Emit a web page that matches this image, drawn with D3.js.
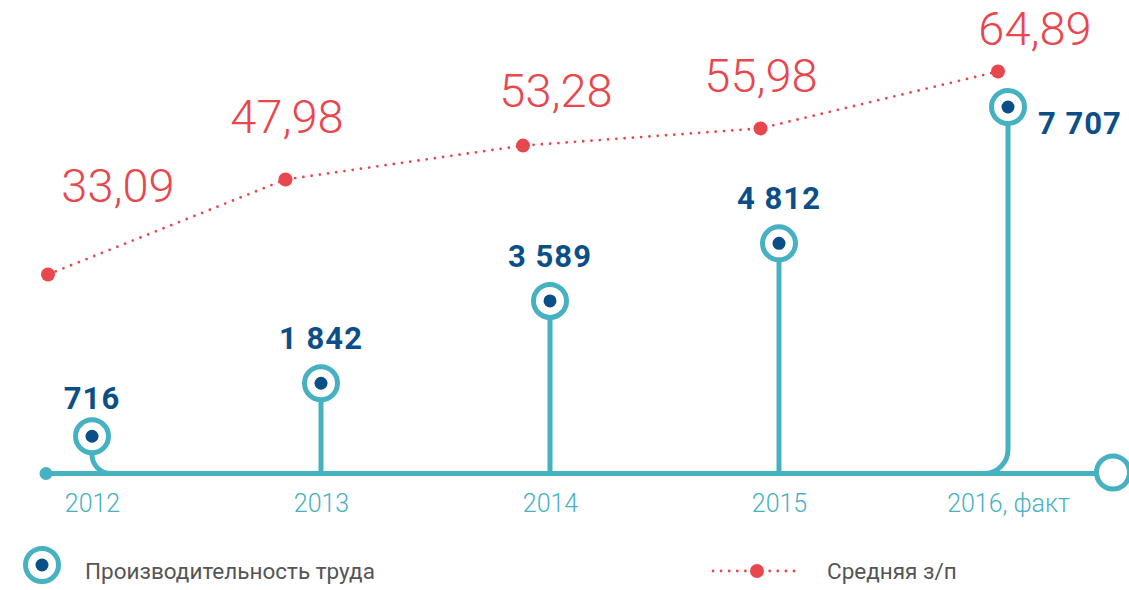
<!DOCTYPE html>
<html><head><meta charset="utf-8">
<script src="https://cdn.jsdelivr.net/npm/d3@7"></script>
<style>html,body{margin:0;padding:0;background:#fff;} svg{display:block;}</style>
</head><body>
<svg id="chart" width="1129" height="590"></svg>
<script>
// ---- DATA ----
const years = ["2012", "2013", "2014", "2015", "2016, факт"];
const productivity = [716, 1842, 3589, 4812, 7707];
const wage = [33.09, 47.98, 53.28, 55.98, 64.89];
const legendLabels = ["Производительность труда", "Средняя з/п"];

// ---- LAYOUT / STYLE ----
const teal = "#46b1c1", navy = "#0b4f88", red = "#e9474e", gray = "#555555";
const baseY = 473.5, axisStart = 46, axisEnd = 1113;
const ringR = 16.5, ringW = 5, dotR = 6.5;
// annotation nudges for the wage labels (dx, dy from their point)
const wageLabelNudge = [[70, -72.5], [1.5, -46.5], [33, -38.6], [0.5, -36.4], [37, -26.5]];

const locale = d3.formatLocale({decimal: ",", thousands: " ", grouping: [3], currency: ["", ""]});
const fmtInt = locale.format(",d");
const fmtDec = locale.format(",.2f");

const svg = d3.select("#chart");

const xStem = d3.scalePoint().domain(years).range([92, 1008]);
const xWage = d3.scalePoint().domain(years).range([48, 998]);
const yStem = d3.scaleLinear().domain([0, d3.max(productivity)]).range([470, 107]);
const yWage = d3.scaleLinear().domain(d3.extent(wage)).range([274.5, 71.5]);

// ---- axis labels ----
const axis = d3.axisBottom(xStem).tickSizeInner(0).tickSizeOuter(0).tickPadding(21);
const gAxis = svg.append("g").attr("transform", `translate(0,${baseY})`).call(axis);
gAxis.select(".domain").remove();
gAxis.selectAll("text")
  .attr("fill", teal)
  .style("font-family", "Roboto, sans-serif")
  .style("font-weight", 300)
  .style("font-size", "25px");

// ---- baseline ----
svg.append("line")
  .attr("x1", axisStart).attr("x2", axisEnd - ringR)
  .attr("y1", baseY).attr("y2", baseY)
  .attr("stroke", teal).attr("stroke-width", ringW);
svg.append("circle").attr("cx", axisStart).attr("cy", baseY).attr("r", 6.5).attr("fill", teal);
svg.append("circle").attr("cx", axisEnd).attr("cy", baseY - 1).attr("r", ringR)
  .attr("fill", "#fff").attr("stroke", teal).attr("stroke-width", ringW);

// ---- stems ----
const n = years.length;
const stems = years.map((y, i) => ({year: y, v: productivity[i], i}));
svg.append("g").selectAll("path").data(stems).join("path")
  .attr("fill", "none").attr("stroke", teal).attr("stroke-width", ringW)
  .attr("d", d => {
    const x = xStem(d.year), cy = yStem(d.v);
    if (d.i === 0) {
      const R = 19;
      return `M${x},${cy}L${x},${baseY - R}A${R},${R} 0 0 0 ${x + R},${baseY}`;
    } else if (d.i === n - 1) {
      const R = 24;
      return `M${x},${cy}L${x},${baseY - R}A${R},${R} 0 0 1 ${x - R},${baseY}`;
    }
    return `M${x},${cy}L${x},${baseY}`;
  });

const gMarks = svg.append("g").selectAll("g").data(stems).join("g")
  .attr("transform", d => `translate(${xStem(d.year)},${yStem(d.v)})`);
gMarks.append("circle").attr("r", ringR).attr("fill", "#fff")
  .attr("stroke", teal).attr("stroke-width", ringW);
gMarks.append("circle").attr("r", dotR).attr("fill", navy);
gMarks.append("text")
  .attr("x", d => d.i === n - 1 ? 30 : 0)
  .attr("y", d => d.i === n - 1 ? 27 : (d.i === 0 ? -27 : -34))
  .attr("text-anchor", d => d.i === n - 1 ? "start" : "middle")
  .attr("fill", navy)
  .style("font-family", "Roboto, sans-serif")
  .style("font-weight", 700)
  .style("font-size", "31px")
  .style("letter-spacing", "1px")
  .text(d => fmtInt(d.v));

// ---- wage dotted line ----
const wagePts = years.map((y, i) => ({year: y, v: wage[i], i}));
svg.append("path").datum(wagePts)
  .attr("fill", "none").attr("stroke", red).attr("stroke-width", 2.8)
  .attr("stroke-linecap", "round").attr("stroke-dasharray", "0 8.3")
  .attr("d", d3.line().x(d => xWage(d.year)).y(d => yWage(d.v)));
svg.append("g").selectAll("circle").data(wagePts).join("circle")
  .attr("cx", d => xWage(d.year)).attr("cy", d => yWage(d.v)).attr("r", 7).attr("fill", red);
svg.append("g").selectAll("text").data(wagePts).join("text")
  .attr("x", d => xWage(d.year) + wageLabelNudge[d.i][0])
  .attr("y", d => yWage(d.v) + wageLabelNudge[d.i][1])
  .attr("text-anchor", "middle")
  .attr("fill", red)
  .style("font-family", "Roboto, sans-serif")
  .style("font-weight", 300)
  .style("font-size", "47px")
  .text(d => fmtDec(d.v));

// ---- legend ----
const lg = svg.append("g");
lg.append("circle").attr("cx", 42).attr("cy", 565).attr("r", ringR).attr("fill", "#fff")
  .attr("stroke", teal).attr("stroke-width", ringW);
lg.append("circle").attr("cx", 42).attr("cy", 565).attr("r", dotR).attr("fill", navy);
lg.append("text").attr("x", 85).attr("y", 579).attr("fill", gray)
  .style("font-family", "Roboto, sans-serif").style("font-weight", 400).style("font-size", "22.5px")
  .text(legendLabels[0]);
lg.append("line").attr("x1", 713).attr("x2", 802).attr("y1", 571).attr("y2", 571)
  .attr("stroke", red).attr("stroke-width", 2.8).attr("stroke-linecap", "round")
  .attr("stroke-dasharray", "0 8.1");
lg.append("circle").attr("cx", 757).attr("cy", 571).attr("r", 7).attr("fill", red);
lg.append("text").attr("x", 827).attr("y", 579).attr("fill", gray)
  .style("font-family", "Roboto, sans-serif").style("font-weight", 400).style("font-size", "22.5px")
  .text(legendLabels[1]);
</script>
</body></html>
